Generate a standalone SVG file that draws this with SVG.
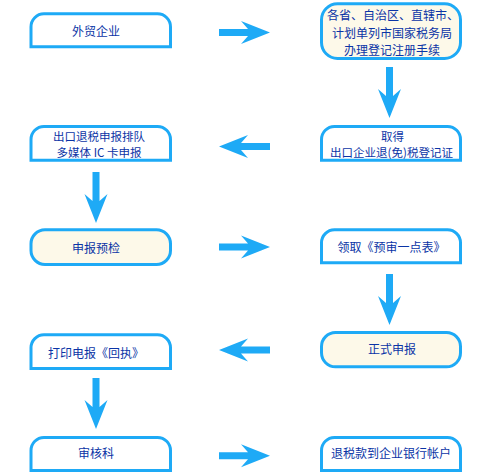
<svg xmlns="http://www.w3.org/2000/svg" xmlns:xlink="http://www.w3.org/1999/xlink" width="491" height="476" viewBox="0 0 491 476">
<style>
.tab{fill:#ffffff;stroke:#1eaaf6;stroke-width:3}
.pill{fill:#fdf9e9;stroke:#1eaaf6;stroke-width:3}
.t{font-family:"Noto Sans CJK SC","Noto Sans",sans-serif;font-size:12px;fill:#0b34a6;text-anchor:middle}
.s{font-size:11.5px}
.arr{fill:#1eaaf6}
</style>
<defs>
<path id="arrowR" class="arr" d="M0,-3.5 H29 L22,-11.5 L51,0 L22,11.5 L29,3.5 H0 Z"/>
</defs>
<rect width="491" height="476" fill="#ffffff"/>
<g id="connectors">
<use xlink:href="#arrowR" transform="translate(219,32.5)"/>
<use xlink:href="#arrowR" transform="translate(389.5,67) rotate(90)"/>
<use xlink:href="#arrowR" transform="translate(270,146.5) rotate(180)"/>
<use xlink:href="#arrowR" transform="translate(96,172) rotate(90)"/>
<use xlink:href="#arrowR" transform="translate(219,247)"/>
<use xlink:href="#arrowR" transform="translate(389.5,274) rotate(90)"/>
<use xlink:href="#arrowR" transform="translate(270,350) rotate(180)"/>
<use xlink:href="#arrowR" transform="translate(96,378) rotate(90)"/>
<use xlink:href="#arrowR" transform="translate(219,455.8)"/>
</g>
<g id="n1">
<path class="tab" d="M31,46.8 V27 A13,13 0 0 1 44,13.8 H157.5 A13,13 0 0 1 170.5,27 V46.8 Z"/>
<text class="t" x="96" y="35.5">外贸企业</text>
</g>
<g id="n2">
<rect class="pill" x="321.5" y="3.8" width="139" height="54.7" rx="16"/>
<text class="t" x="393" y="19.5">各省、自治区、直辖市、<tspan x="392" dy="18">计划单列市国家税务局</tspan><tspan x="392" dy="17.5">办理登记注册手续</tspan></text>
</g>
<g id="n3">
<path class="tab" d="M321.5,160.2 V139.5 A13,13 0 0 1 334.5,126.5 H447.5 A13,13 0 0 1 460.5,139.5 V160.2 Z"/>
<text class="t s" x="392.5" y="140.5">取得<tspan x="391.5" dy="16.8">出口企业退(免)税登记证</tspan></text>
</g>
<g id="n4">
<path class="tab" d="M31,160.2 V139.5 A13,13 0 0 1 44,126.5 H157.5 A13,13 0 0 1 170.5,139.5 V160.2 Z"/>
<text class="t s" x="99" y="140.5">出口退税申报排队<tspan x="99" dy="16.8">多媒体 IC 卡申报</tspan></text>
</g>
<g id="n5">
<rect class="pill" x="31" y="229.8" width="139.5" height="34.7" rx="14"/>
<text class="t" x="96" y="252.5">申报预检</text>
</g>
<g id="n6">
<path class="tab" d="M321.5,262.8 V242.8 A13,13 0 0 1 334.5,229.8 H447.5 A13,13 0 0 1 460.5,242.8 V262.8 Z"/>
<text class="t" x="391.5" y="251.5">领取《预审一点表》</text>
</g>
<g id="n7">
<rect class="pill" x="321.5" y="332.5" width="139" height="34.3" rx="14"/>
<text class="t" x="392" y="353.5">正式申报</text>
</g>
<g id="n8">
<path class="tab" d="M31,368.5 V347.8 A13,13 0 0 1 44,334.8 H157.5 A13,13 0 0 1 170.5,347.8 V368.5 Z"/>
<text class="t" x="96" y="357.5">打印电报《回执》</text>
</g>
<g id="n9">
<path class="tab" d="M31,470.5 V450.5 A13,13 0 0 1 44,437.5 H157.5 A13,13 0 0 1 170.5,450.5 V470.5 Z"/>
<text class="t" x="96" y="457.5">审核科</text>
</g>
<g id="n10">
<path class="tab" d="M321.5,470.5 V450.5 A13,13 0 0 1 334.5,437.5 H447.5 A13,13 0 0 1 460.5,450.5 V470.5 Z"/>
<text class="t" x="391" y="457.5">退税款到企业银行帐户</text>
</g>
</svg>
